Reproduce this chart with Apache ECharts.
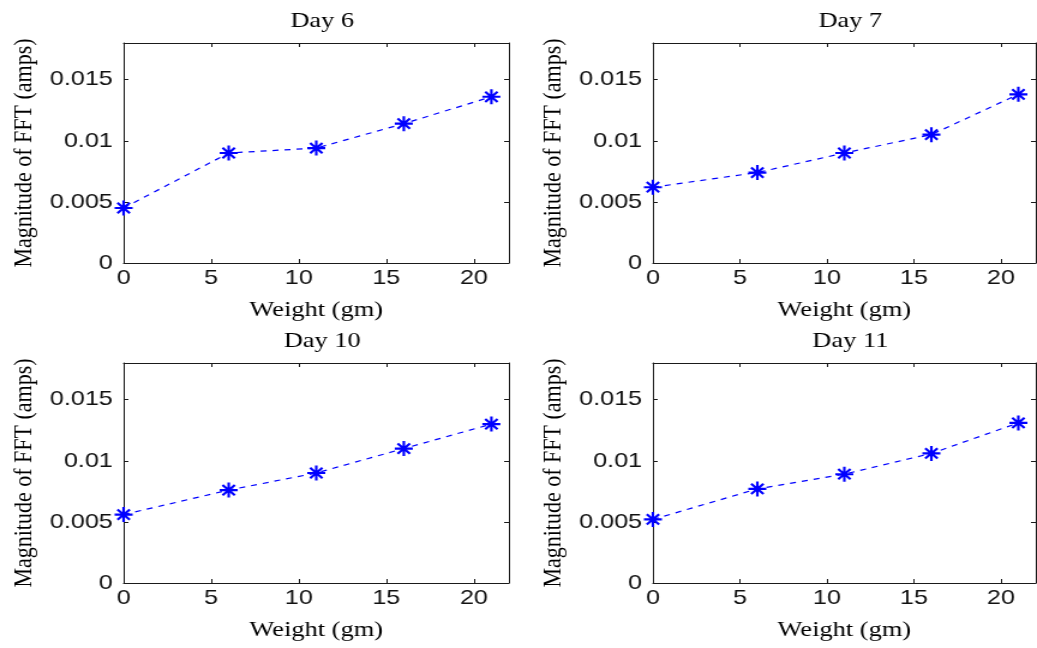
<!DOCTYPE html>
<html>
<head>
<meta charset="utf-8">
<title>Magnitude of FFT vs Weight</title>
<script src="https://cdn.jsdelivr.net/npm/echarts@6/dist/echarts.min.js"></script>
<style>
  html, body { margin: 0; padding: 0; background: #fff; overflow: hidden; }
  /* figure is laid out at 864 px wide and widened to fill the 1037 px window */
  #chart { width: 864px; height: 648px; transform: scaleX(1.2002); transform-origin: 0 0; }
</style>
</head>
<body>
<div id="chart"></div>
<script>
// Weights applied (gm)
const weights = [0, 6, 11, 16, 21];

// FFT magnitude (amps) for each day
const day6  = [0.0045, 0.0090, 0.0094, 0.0114, 0.0136];
const day7  = [0.0062, 0.0074, 0.0090, 0.0105, 0.0138];
const day10 = [0.0056, 0.0076, 0.0090, 0.0110, 0.0130];
const day11 = [0.0052, 0.0077, 0.0089, 0.0106, 0.0131];

const panelTitles = ['Day 6', 'Day 7', 'Day 10', 'Day 11'];
const panelData = [day6, day7, day10, day11];

const xName = 'Weight (gm)';
const yName = 'Magnitude of FFT (amps)';

// panel frames: [left, top, width, height]
const frames = [
  [103, 43, 321, 220],
  [544, 43, 319, 220],
  [103, 363, 321, 220],
  [544, 363, 319, 220]
];

const serif = 'Liberation Serif, Times New Roman, serif';
const sans = 'Liberation Sans, Arial, sans-serif';
const ink = '#1a1a1a';
const blue = '#0000ff';

// asterisk marker: horizontal, vertical and two diagonal strokes
const asterisk = 'path://' +
  'M-7,-1L7,-1L7,1L-7,1Z' +
  'M-1,-7L1,-7L1,7L-1,7Z' +
  'M-5.5,-4.1L-4.1,-5.5L5.5,4.1L4.1,5.5Z' +
  'M4.1,-5.5L5.5,-4.1L-4.1,5.5L-5.5,4.1Z';

const grid = [], xAxis = [], yAxis = [], series = [], title = [];

frames.forEach(function (f, i) {
  grid.push({ left: f[0], top: f[1], width: f[2], height: f[3], containLabel: false });

  title.push({
    text: panelTitles[i],
    left: f[0] + f[2] / 2,
    top: f[1] - 38,
    textAlign: 'center',
    textStyle: { fontFamily: serif, fontSize: 22, fontWeight: 'normal', color: '#000' }
  });

  const lineStyle = { color: ink, width: 1 };

  // bottom x axis with labels
  xAxis.push({
    type: 'value', gridIndex: i, min: 0, max: 22, interval: 5, position: 'bottom',
    name: xName, nameLocation: 'middle', nameGap: 36,
    nameTextStyle: { fontFamily: serif, fontSize: 22, color: '#000' },
    axisLine: { show: true, onZero: false, lineStyle: lineStyle },
    axisTick: { show: true, inside: true, length: 4, lineStyle: lineStyle },
    axisLabel: { show: true, margin: 5, fontFamily: sans, fontSize: 21, color: '#111', showMaxLabel: false },
    splitLine: { show: false }
  });
  // top edge of the frame
  xAxis.push({
    type: 'value', gridIndex: i, min: 0, max: 22, interval: 5, position: 'top',
    axisLine: { show: true, onZero: false, lineStyle: lineStyle },
    axisTick: { show: true, inside: true, length: 4, lineStyle: lineStyle },
    axisLabel: { show: false },
    splitLine: { show: false }
  });

  // left y axis with labels
  yAxis.push({
    type: 'value', gridIndex: i, min: 0, max: 0.018, interval: 0.005, position: 'left',
    name: yName, nameLocation: 'middle', nameGap: 72, nameRotate: 90,
    nameTextStyle: { fontFamily: serif, fontSize: 22, color: '#000' },
    axisLine: { show: true, onZero: false, lineStyle: lineStyle },
    axisTick: { show: true, inside: true, length: 4, lineStyle: lineStyle },
    axisLabel: { show: true, margin: 9, fontFamily: sans, fontSize: 21, color: '#111', showMaxLabel: false },
    splitLine: { show: false }
  });
  // right edge of the frame
  yAxis.push({
    type: 'value', gridIndex: i, min: 0, max: 0.018, interval: 0.005, position: 'right',
    axisLine: { show: true, onZero: false, lineStyle: lineStyle },
    axisTick: { show: true, inside: true, length: 4, lineStyle: lineStyle },
    axisLabel: { show: false },
    splitLine: { show: false }
  });

  series.push({
    type: 'line',
    name: panelTitles[i],
    xAxisIndex: i * 2,
    yAxisIndex: i * 2,
    data: weights.map(function (w, k) { return [w, panelData[i][k]]; }),
    lineStyle: { color: blue, width: 1.2, type: [5, 5] },
    symbol: asterisk,
    symbolSize: 15,
    showAllSymbol: true,
    itemStyle: { color: blue, borderWidth: 0 },
    emphasis: { disabled: true },
    animation: false,
    clip: false
  });
});

const chart = echarts.init(document.getElementById('chart'), null, { renderer: 'canvas' });
chart.setOption({
  backgroundColor: '#fff',
  animation: false,
  title: title,
  grid: grid,
  xAxis: xAxis,
  yAxis: yAxis,
  series: series
});
</script>
</body>
</html>
